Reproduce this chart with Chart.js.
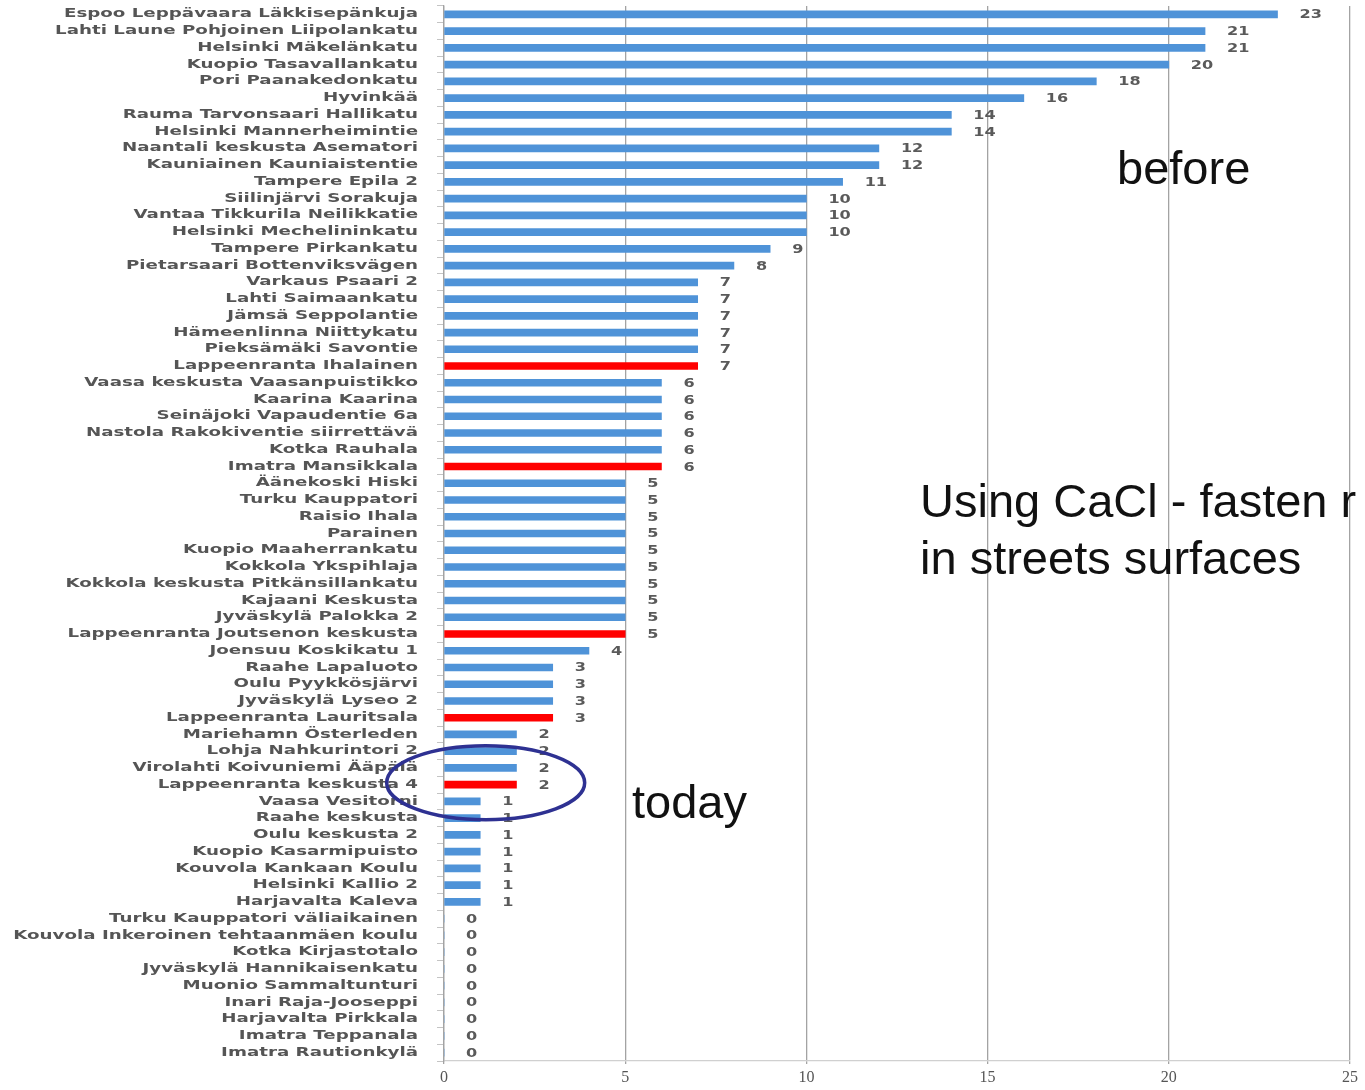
<!DOCTYPE html>
<html>
<head>
<meta charset="utf-8">
<title>Measuring stations</title>
<script src="https://cdn.jsdelivr.net/npm/chart.js@4/dist/chart.umd.min.js"></script>
<style>
  html, body { margin: 0; padding: 0; background: #ffffff; }
  #wrap { width: 1365px; height: 1090px; }
</style>
</head>
<body>
<div id="wrap"><canvas id="chart" width="1365" height="1090"></canvas></div>
<script>
// Measuring stations, top to bottom
const stations = [
  'Espoo Leppävaara Läkkisepänkuja',
  'Lahti Laune Pohjoinen Liipolankatu',
  'Helsinki Mäkelänkatu',
  'Kuopio Tasavallankatu',
  'Pori Paanakedonkatu',
  'Hyvinkää',
  'Rauma Tarvonsaari Hallikatu',
  'Helsinki Mannerheimintie',
  'Naantali keskusta Asematori',
  'Kauniainen Kauniaistentie',
  'Tampere Epila 2',
  'Siilinjärvi Sorakuja',
  'Vantaa Tikkurila Neilikkatie',
  'Helsinki Mechelininkatu',
  'Tampere Pirkankatu',
  'Pietarsaari Bottenviksvägen',
  'Varkaus Psaari 2',
  'Lahti Saimaankatu',
  'Jämsä Seppolantie',
  'Hämeenlinna Niittykatu',
  'Pieksämäki Savontie',
  'Lappeenranta Ihalainen',
  'Vaasa keskusta Vaasanpuistikko',
  'Kaarina Kaarina',
  'Seinäjoki Vapaudentie 6a',
  'Nastola Rakokiventie siirrettävä',
  'Kotka Rauhala',
  'Imatra Mansikkala',
  'Äänekoski Hiski',
  'Turku Kauppatori',
  'Raisio Ihala',
  'Parainen',
  'Kuopio Maaherrankatu',
  'Kokkola Ykspihlaja',
  'Kokkola keskusta Pitkänsillankatu',
  'Kajaani Keskusta',
  'Jyväskylä Palokka 2',
  'Lappeenranta Joutsenon keskusta',
  'Joensuu Koskikatu 1',
  'Raahe Lapaluoto',
  'Oulu Pyykkösjärvi',
  'Jyväskylä Lyseo 2',
  'Lappeenranta Lauritsala',
  'Mariehamn Österleden',
  'Lohja Nahkurintori 2',
  'Virolahti Koivuniemi Ääpälä',
  'Lappeenranta keskusta 4',
  'Vaasa Vesitorni',
  'Raahe keskusta',
  'Oulu keskusta 2',
  'Kuopio Kasarmipuisto',
  'Kouvola Kankaan Koulu',
  'Helsinki Kallio 2',
  'Harjavalta Kaleva',
  'Turku Kauppatori väliaikainen',
  'Kouvola Inkeroinen tehtaanmäen koulu',
  'Kotka Kirjastotalo',
  'Jyväskylä Hannikaisenkatu',
  'Muonio Sammaltunturi',
  'Inari Raja-Jooseppi',
  'Harjavalta Pirkkala',
  'Imatra Teppanala',
  'Imatra Rautionkylä'
];

// Count per station
const counts = [
  23, 21, 21, 20, 18, 16, 14, 14, 12, 12,
  11, 10, 10, 10, 9, 8, 7, 7, 7, 7,
  7, 7, 6, 6, 6, 6, 6, 6, 5, 5,
  5, 5, 5, 5, 5, 5, 5, 5, 4, 3,
  3, 3, 3, 2, 2, 2, 2, 1, 1, 1,
  1, 1, 1, 1, 0, 0, 0, 0, 0, 0,
  0, 0, 0
];

// Stations shown in red
const highlighted = [
  'Lappeenranta Ihalainen',
  'Imatra Mansikkala',
  'Lappeenranta Joutsenon keskusta',
  'Lappeenranta Lauritsala',
  'Lappeenranta keskusta 4'
];

// Value axis tick labels
const xTickValues = [0, 5, 10, 15, 20, 25];

const BLUE = '#4f93d8';
const RED = '#ff0000';
const LABEL_STRETCH = 1.52;

// Category scale whose labels are drawn horizontally widened
class WideCategoryScale extends Chart.CategoryScale {
  drawLabels(chartArea) {
    const ctx = this.ctx;
    const tl = this.options.grid.tickLength;
    const anchor = this.right - tl - this.options.ticks.padding;
    ctx.save();
    ctx.translate(anchor, 0);
    ctx.scale(LABEL_STRETCH, 1);
    ctx.translate(-anchor, 0);
    super.drawLabels(chartArea);
    ctx.restore();
  }
}
WideCategoryScale.id = 'wideCategory';
Chart.register(WideCategoryScale);

// Value text at the end of each bar
const valueLabels = {
  id: 'valueLabels',
  afterDatasetsDraw(chart) {
    const ctx = chart.ctx;
    const meta = chart.getDatasetMeta(0);
    const data = chart.data.datasets[0].data;
    ctx.save();
    ctx.font = 'bold 11.5px "DejaVu Sans"';
    ctx.fillStyle = '#5a5a5a';
    ctx.textAlign = 'left';
    ctx.textBaseline = 'middle';
    meta.data.forEach((bar, i) => {
      ctx.save();
      ctx.translate(bar.x + 22, bar.y + 1);
      ctx.scale(1.4, 1);
      ctx.fillText(String(data[i]), 0, 0);
      ctx.restore();
    });
    ctx.restore();
  }
};

// Notes and the circled group
const notes = {
  id: 'notes',
  afterDraw(chart) {
    const ctx = chart.ctx;
    const xs = chart.scales.x;
    const ys = chart.scales.y;
    ctx.save();
    ctx.fillStyle = '#111111';
    ctx.font = '47px "Liberation Sans", Arial, sans-serif';
    ctx.textAlign = 'left';
    ctx.textBaseline = 'alphabetic';
    ctx.fillText('before', 1117, 184);
    ctx.fillText('Using CaCl - fasten r', 920, 517);
    ctx.fillText('in streets surfaces', 920, 574);
    ctx.fillText('today', 632, 818);

    const cy = ys.getPixelForValue(stations.indexOf('Lappeenranta keskusta 4')) - 2;
    const cx = xs.getPixelForValue(1.15);
    ctx.beginPath();
    ctx.ellipse(cx, cy, 99, 37, 0, 0, Math.PI * 2);
    ctx.strokeStyle = '#2e3192';
    ctx.lineWidth = 3.5;
    ctx.stroke();
    ctx.restore();
  }
};

new Chart(document.getElementById('chart'), {
  type: 'bar',
  data: {
    labels: stations,
    datasets: [{
      data: counts,
      backgroundColor: stations.map(s => highlighted.includes(s) ? RED : BLUE),
      borderWidth: 0,
      barThickness: 7
    }]
  },
  options: {
    indexAxis: 'y',
    responsive: false,
    animation: false,
    layout: { padding: { top: 6, right: 15, bottom: 0, left: 0 } },
    plugins: {
      legend: { display: false },
      tooltip: { enabled: false }
    },
    scales: {
      x: {
        type: 'linear',
        min: 0,
        max: 25,
        afterBuildTicks(scale) {
          scale.ticks = xTickValues.map(v => ({ value: v }));
        },
        afterFit(scale) { scale.height = 29; },
        grid: {
          color: '#a3a3a3',
          lineWidth: 1.3,
          drawTicks: true,
          tickLength: 3,
          tickColor: '#a3a3a3'
        },
        border: { color: '#d0d0d0', width: 1.3 },
        ticks: {
          font: { family: '"Liberation Serif", serif', size: 16 },
          color: '#555555',
          padding: 4
        }
      },
      y: {
        type: 'wideCategory',
        offset: true,
        afterFit(scale) {
          scale.width = 444;
          scale.paddingTop = 0;
          scale.paddingBottom = 0;
        },
        grid: {
          offset: true,
          drawOnChartArea: false,
          drawTicks: true,
          tickLength: 7,
          tickColor: '#c4c4c4'
        },
        border: { color: '#a3a3a3', width: 1.3 },
        ticks: {
          autoSkip: false,
          font: { family: '"DejaVu Sans"', size: 12, weight: 'bold' },
          color: '#555555',
          padding: 19
        }
      }
    }
  },
  plugins: [valueLabels, notes]
});
</script>
</body>
</html>
